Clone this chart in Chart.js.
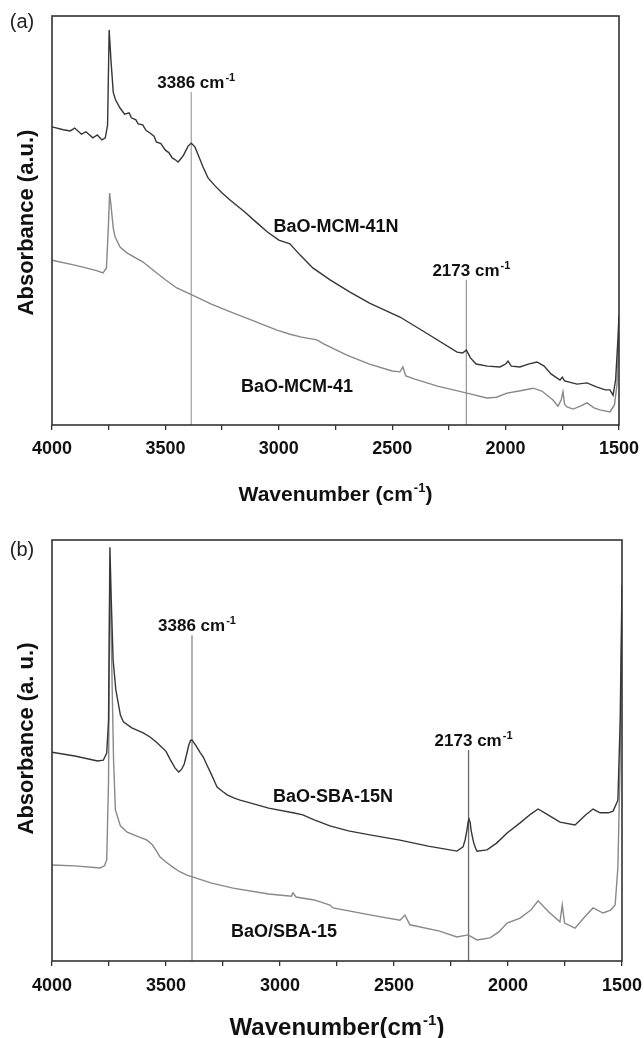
<!DOCTYPE html>
<html>
<head>
<meta charset="utf-8">
<script src="https://cdn.jsdelivr.net/npm/chart.js@4.4.1/dist/chart.umd.min.js"></script>
<style>
  body { margin: 0; background: #fff; }
  #wrap { position: relative; width: 644px; height: 1038px; }
  canvas { position: absolute; left: 0; display: block; }
</style>
</head>
<body>
<div id="wrap">
  <canvas id="chartA" width="644" height="520" style="top:0"></canvas>
  <canvas id="chartB" width="644" height="518" style="top:520px"></canvas>
</div>
<script>
// ---- panel (a) data (absorbance in arbitrary units 0-100) ----
const mcm41nWn = [4000, 3950, 3920, 3900, 3870, 3850, 3820, 3800, 3780, 3765, 3755, 3748, 3740, 3730, 3720, 3700,
  3680, 3660, 3650, 3630, 3620, 3600, 3585, 3568, 3550, 3540, 3520, 3500, 3485, 3470, 3455, 3444, 3430, 3420, 3400,
  3386, 3370, 3350, 3334, 3312, 3280, 3250, 3215, 3150, 3100, 3050, 3000, 2951, 2907, 2850, 2774, 2686, 2600, 2466,
  2350, 2214, 2190, 2173, 2155, 2130, 2080, 2025, 2000, 1989, 1975, 1937, 1900, 1862, 1830, 1800, 1760, 1750, 1740,
  1685, 1641, 1600, 1560, 1540, 1526, 1515, 1505, 1500];
const mcm41nVal = [72.9, 72.2, 71.9, 72.6, 71.1, 71.7, 70.2, 70.9, 69.7, 70.2, 73.3, 96.6, 89.2, 81.4, 79.5, 77.5,
  76.0, 76.3, 75.1, 74.6, 73.6, 73.4, 72.0, 71.4, 70.6, 69.2, 68.8, 67.2, 66.6, 65.3, 64.8, 64.3, 65.2, 66.0, 68.2,
  68.9, 68.0, 65.3, 63.1, 60.4, 58.4, 56.7, 55.0, 52.1, 49.6, 47.2, 45.2, 44.3, 41.6, 38.4, 35.5, 32.5, 29.8, 26.4,
  22.5, 17.8, 17.6, 18.3, 16.4, 14.9, 14.4, 14.2, 14.9, 15.6, 14.4, 14.2, 14.9, 15.4, 14.4, 12.5, 11.0, 11.7, 10.8,
  10.0, 10.3, 9.3, 8.6, 8.6, 7.3, 11.0, 20.8, 26.9];

const mcm41Wn = [4000, 3900, 3850, 3800, 3775, 3760, 3752, 3746, 3740, 3730, 3722, 3700, 3670, 3600, 3555, 3500,
  3450, 3383, 3300, 3202, 3100, 3008, 2950, 2900, 2832, 2800, 2700, 2600, 2500, 2466, 2453, 2440, 2400, 2300, 2170,
  2083, 2040, 1994, 1940, 1879, 1840, 1791, 1769, 1755, 1747, 1740, 1729, 1703, 1670, 1641, 1610, 1584, 1540, 1520,
  1509, 1500];
const mcm41Val = [40.3, 39.1, 38.4, 37.7, 37.2, 38.4, 47.7, 56.7, 53.8, 48.2, 46.0, 43.5, 42.1, 39.9, 37.9, 35.5,
  33.5, 31.8, 29.6, 27.4, 25.2, 23.2, 22.2, 21.5, 20.8, 19.8, 17.1, 14.9, 13.2, 13.0, 14.2, 12.0, 11.2, 9.5, 7.8,
  6.6, 6.8, 7.8, 8.3, 9.0, 8.3, 6.1, 4.6, 6.1, 8.1, 5.1, 4.4, 3.9, 4.6, 5.4, 4.2, 3.7, 3.2, 4.9, 9.8, 23.2];

// ---- panel (b) data ----
const sba15nWn = [4000, 3900, 3800, 3775, 3760, 3752, 3746, 3740, 3732, 3720, 3700, 3687, 3650, 3600, 3570, 3538,
  3500, 3480, 3460, 3444, 3432, 3420, 3410, 3400, 3392, 3386, 3370, 3350, 3337, 3320, 3300, 3285, 3276, 3250, 3230,
  3200, 3175, 3100, 3050, 2943, 2900, 2850, 2781, 2700, 2600, 2474, 2350, 2224, 2197, 2188, 2180, 2175, 2171, 2166,
  2162, 2155, 2150, 2142, 2136, 2092, 2050, 2004, 1947, 1900, 1868, 1830, 1772, 1706, 1660, 1627, 1596, 1560, 1539,
  1518, 1508, 1500];
const sba15nVal = [49.6, 48.7, 47.5, 47.7, 49.4, 57.2, 98.3, 85.7, 71.5, 64.4, 58.4, 56.8, 55.4, 54.2, 53.2, 51.8,
  49.8, 47.7, 45.8, 44.9, 45.5, 46.8, 49.0, 51.3, 52.4, 52.5, 51.3, 49.5, 48.5, 46.5, 44.2, 42.4, 41.3, 40.2, 39.4,
  38.7, 38.2, 37.1, 36.3, 35.2, 34.7, 33.5, 32.1, 30.9, 29.9, 28.7, 27.3, 26.1, 27.1, 28.8, 31.1, 33.0, 33.7, 32.9,
  31.1, 29.2, 28.0, 26.8, 26.1, 26.4, 28.0, 30.4, 32.8, 34.9, 36.1, 34.9, 33.0, 32.3, 34.7, 36.1, 35.2, 35.2, 35.6,
  38.2, 57.2, 89.3];

const sba15Wn = [4000, 3900, 3789, 3770, 3760, 3752, 3746, 3740, 3730, 3722, 3700, 3670, 3620, 3583, 3560, 3540,
  3526, 3500, 3470, 3440, 3408, 3300, 3206, 3050, 2950, 2943, 2930, 2850, 2781, 2767, 2600, 2474, 2452, 2430, 2300,
  2224, 2175, 2136, 2079, 2040, 2004, 1947, 1900, 1868, 1820, 1772, 1762, 1752, 1706, 1660, 1627, 1583, 1550, 1530,
  1518, 1508, 1500];
const sba15Val = [22.8, 22.6, 22.1, 22.6, 24.0, 43.0, 94.1, 76.2, 47.7, 35.9, 32.1, 30.6, 29.5, 28.7, 27.6, 26.0,
  24.7, 23.5, 22.3, 21.2, 20.4, 18.5, 17.3, 15.9, 15.4, 16.2, 15.2, 14.5, 13.3, 12.6, 10.9, 9.7, 10.9, 8.6, 7.1,
  5.7, 6.2, 5.0, 5.5, 6.9, 9.0, 10.2, 12.1, 14.3, 11.6, 9.3, 13.3, 9.0, 7.8, 10.7, 12.6, 11.4, 12.1, 13.3,
  22.3, 47.7, 85.7];

// marker lines (wavenumber, top of line in each panel)
const markerWn = [3386, 2173];
const markerTopA = [81.4, 35.5];
const markerTopB = [77.4, 50.1];

const xTicks = [4000, 3500, 3000, 2500, 2000, 1500];

const FONT = '"Liberation Sans", Arial, Helvetica, sans-serif';

function pts(wn, val) {
  return wn.map((w, i) => ({ x: w, y: val[i] }));
}

// draws text made of parts, some superscript; cx = centre, y = baseline
function drawParts(ctx, parts, cx, y, size) {
  const supSize = Math.round(size * 0.62);
  let total = 0;
  parts.forEach(p => {
    ctx.font = `bold ${p.sup ? supSize : size}px ${FONT}`;
    p.w = ctx.measureText(p.t).width + (p.sup ? 1 : 0);
    total += p.w;
  });
  let x = cx - total / 2;
  ctx.textAlign = 'left';
  ctx.textBaseline = 'alphabetic';
  parts.forEach(p => {
    ctx.font = `bold ${p.sup ? supSize : size}px ${FONT}`;
    ctx.fillText(p.t, x + (p.sup ? 1 : 0), p.sup ? y - size * 0.42 : y);
    x += p.w;
  });
}

function textPlugin(cfg) {
  return {
    id: 'panelText',
    afterDraw(chart) {
      const { ctx, chartArea: a, scales: { x, y } } = chart;
      ctx.save();
      // frame
      ctx.strokeStyle = '#333';
      ctx.lineWidth = 1.6;
      ctx.strokeRect(a.left, a.top, a.right - a.left, a.bottom - a.top);
      ctx.fillStyle = '#111';

      // marker labels
      markerWn.forEach((w, i) => {
        const px = x.getPixelForValue(w);
        const py = y.getPixelForValue(cfg.markerTop[i]);
        drawParts(ctx, [{ t: w + ' cm' }, { t: '-1', sup: true }], px + 5, py - 4, 17);
      });

      // series names
      cfg.names.forEach(n => {
        ctx.font = `bold 18px ${FONT}`;
        ctx.textAlign = 'center';
        ctx.textBaseline = 'middle';
        ctx.fillText(n.text, x.getPixelForValue(n.wn), y.getPixelForValue(n.val));
      });

      // axis titles
      const cx = (a.left + a.right) / 2;
      drawParts(ctx, cfg.xTitle, cx, cfg.xTitleY, cfg.xTitleSize);

      ctx.save();
      ctx.translate(33, (a.top + a.bottom) / 2 + cfg.yTitleShift);
      ctx.rotate(-Math.PI / 2);
      ctx.font = `bold 22px ${FONT}`;
      ctx.textAlign = 'center';
      ctx.textBaseline = 'alphabetic';
      ctx.fillText(cfg.yTitle, 0, 0);
      ctx.restore();

      // panel letter
      ctx.font = `20px ${FONT}`;
      ctx.fillStyle = '#222';
      ctx.textAlign = 'center';
      ctx.textBaseline = 'middle';
      ctx.fillText(cfg.letter, 22, cfg.letterY);
      ctx.restore();
    }
  };
}

function makePanel(el, series, markerTop, markerColors, pad, xHeight, tickPad, cfg) {
  const datasets = series.map(s => ({
    data: pts(s.wn, s.val),
    borderColor: s.color,
    borderWidth: 1.4,
    pointRadius: 0,
    tension: 0,
    fill: false
  }));
  markerWn.forEach((w, i) => {
    datasets.push({
      data: [{ x: w, y: markerTop[i] }, { x: w, y: 0 }],
      borderColor: markerColors[i],
      borderWidth: 1.3,
      pointRadius: 0,
      fill: false
    });
  });

  return new Chart(el, {
    type: 'line',
    data: { datasets },
    options: {
      responsive: false,
      animation: false,
      devicePixelRatio: 1,
      layout: { padding: pad },
      plugins: { legend: { display: false }, tooltip: { enabled: false } },
      scales: {
        x: {
          type: 'linear',
          min: 1500,
          max: 4000,
          reverse: true,
          afterFit: s => {
            s.height = xHeight;
            s.paddingLeft = 0;
            s.paddingRight = 0;
          },
          border: { display: false },
          grid: { drawOnChartArea: false, drawTicks: true, tickLength: 5, color: '#333', lineWidth: 1.3 },
          ticks: {
            stepSize: 250,
            autoSkip: false,
            maxRotation: 0,
            padding: tickPad,
            color: '#111',
            font: { family: FONT, size: 18, weight: 'bold' },
            callback: v => (xTicks.includes(v) ? v : '')
          }
        },
        y: {
          min: 0,
          max: 100,
          afterFit: s => { s.width = 52; },
          border: { display: false },
          grid: { display: false },
          ticks: { display: false }
        }
      }
    },
    plugins: [textPlugin(Object.assign({ markerTop }, cfg))]
  });
}

makePanel(document.getElementById('chartA'),
  [
    { wn: mcm41nWn, val: mcm41nVal, color: '#363636' },
    { wn: mcm41Wn, val: mcm41Val, color: '#888888' }
  ],
  markerTopA, ['#a8a8a8', '#9a9a9a'],
  { top: 16, right: 25, left: 0, bottom: 0 }, 95, 8,
  {
    names: [
      { text: 'BaO-MCM-41N', wn: 2748, val: 48.4 },
      { text: 'BaO-MCM-41', wn: 2920, val: 9.3 }
    ],
    xTitle: [{ t: 'Wavenumber (cm' }, { t: '-1', sup: true }, { t: ')' }],
    xTitleY: 501,
    xTitleSize: 21,
    yTitle: 'Absorbance (a.u.)',
    yTitleShift: 2,
    letter: '(a)',
    letterY: 22
  });

makePanel(document.getElementById('chartB'),
  [
    { wn: sba15nWn, val: sba15nVal, color: '#363636' },
    { wn: sba15Wn, val: sba15Val, color: '#888888' }
  ],
  markerTopB, ['#8a8a8a', '#6a6a6a'],
  { top: 20, right: 22, left: 0, bottom: 0 }, 77, 9,
  {
    names: [
      { text: 'BaO-SBA-15N', wn: 2768, val: 39.0 },
      { text: 'BaO/SBA-15', wn: 2982, val: 6.9 }
    ],
    xTitle: [{ t: 'Wavenumber(cm' }, { t: '-1', sup: true }, { t: ')' }],
    xTitleY: 515,
    xTitleSize: 24,
    yTitle: 'Absorbance (a. u.)',
    yTitleShift: -12,
    letter: '(b)',
    letterY: 30
  });
</script>
</body>
</html>
